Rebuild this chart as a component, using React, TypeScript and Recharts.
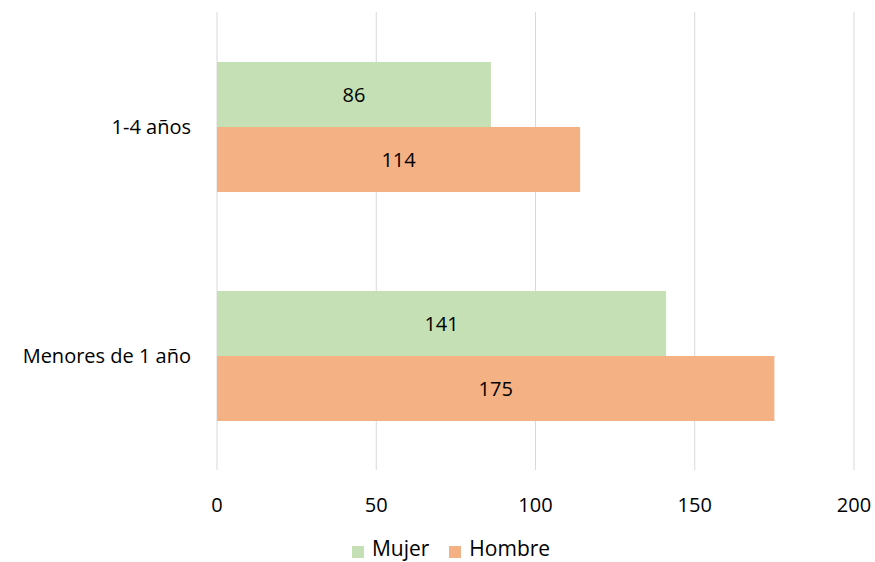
import { BarChart, Bar, XAxis, YAxis, CartesianGrid, Legend, LabelList } from "recharts";

const categories = ["1-4 años", "Menores de 1 año"];
const mujer = [86, 141];
const hombre = [114, 175];
const xTicks = [0, 50, 100, 150, 200];
const seriesOrder = ["Mujer", "Hombre"];

const data = categories.map((name, i) => ({ name, Mujer: mujer[i], Hombre: hombre[i] }));

const FONT = "'Open Sans', sans-serif";

export default function App() {
  return (
    <div style={{ width: 875, height: 562, fontFamily: FONT }}>
      <style>{"body{margin:0;background:#fff}"}</style>
      <BarChart
        width={875}
        height={562}
        data={data}
        layout="vertical"
        margin={{ top: 12, right: 21, left: 0, bottom: 0 }}
        barGap={0}
        barSize={65}
      >
        <CartesianGrid horizontal={false} stroke="#D9D9D9" strokeWidth={1} />
        <XAxis
          type="number"
          domain={[0, 200]}
          ticks={xTicks}
          axisLine={false}
          tickLine={false}
          tickMargin={22}
          height={60}
          tick={{ fontSize: 20, fill: "#000", fontFamily: FONT }}
        />
        <YAxis
          type="category"
          dataKey="name"
          width={217}
          axisLine={false}
          tickLine={false}
          tickMargin={20}
          tick={{ fontSize: 20, fill: "#000", fontFamily: FONT }}
        />
        <Legend
          verticalAlign="bottom"
          iconType="square"
          iconSize={12}
          height={32}
          wrapperStyle={{ bottom: -4, paddingLeft: 68, boxSizing: "border-box" }}
          itemSorter={(item: any) => seriesOrder.indexOf(item.value)}
          formatter={(v) => (
            <span style={{ color: "#000", fontSize: 21, fontFamily: FONT, marginLeft: 4, marginRight: 10 }}>{v}</span>
          )}
        />
        <Bar dataKey="Mujer" fill="#C5E0B4" isAnimationActive={false}>
          <LabelList dataKey="Mujer" position="center" fill="#000" fontSize={20} fontFamily={FONT} />
        </Bar>
        <Bar dataKey="Hombre" fill="#F4B183" isAnimationActive={false}>
          <LabelList dataKey="Hombre" position="center" fill="#000" fontSize={20} fontFamily={FONT} />
        </Bar>
      </BarChart>
    </div>
  );
}
